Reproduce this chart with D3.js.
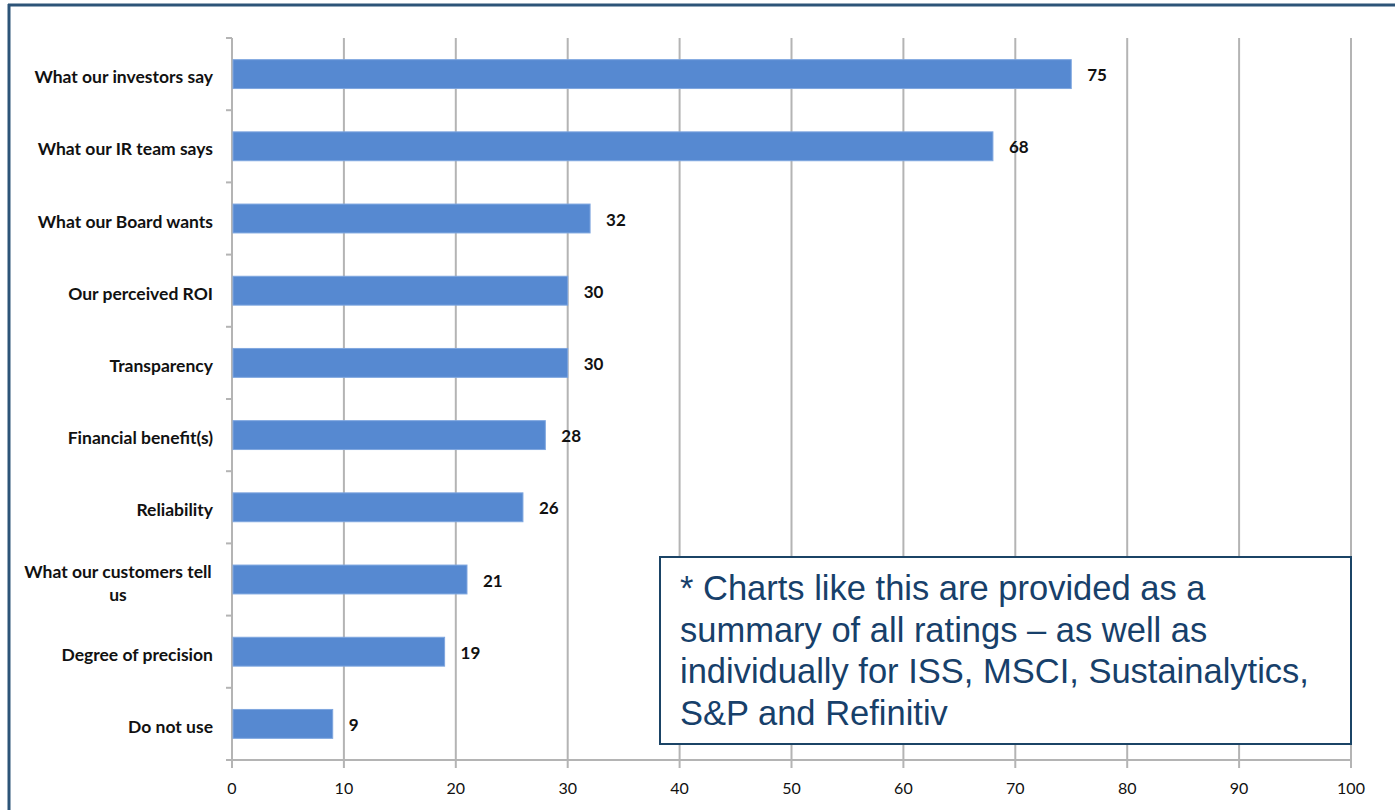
<!DOCTYPE html>
<html><head><meta charset="utf-8">
<script src="https://cdn.jsdelivr.net/npm/d3@7"></script>
<style>
html,body{margin:0;padding:0;background:#fff;}
svg{display:block;}
</style></head>
<body>
<svg id="chart" width="1395" height="810"></svg>
<script>
const categories = ["What our investors say","What our IR team says","What our Board wants","Our perceived ROI","Transparency","Financial benefit(s)","Reliability","What our customers tell us","Degree of precision","Do not use"];
const values = [75,68,32,30,30,28,26,21,19,9];
const xTicks = [0,10,20,30,40,50,60,70,80,90,100];
const noteLines = ["* Charts like this are provided as a","summary of all ratings \u2013 as well as","individually for ISS, MSCI, Sustainalytics,","S&P and Refinitiv"];

const svg = d3.select("#chart");
const pLeft = 232, pRight = 1351, pTop = 38, pBottom = 760;
const x = d3.scaleLinear().domain([0,100]).range([pLeft,pRight]);
const y = d3.scaleBand().domain(categories).range([pTop,pBottom]).paddingInner(0.6).paddingOuter(0.3);
const yb = d3.scaleBand().domain(categories).range([pTop,pBottom]);
const font = "Lato, 'Open Sans', sans-serif";

// outer frame
svg.append("line").attr("x1",8).attr("x2",1395).attr("y1",5).attr("y2",5).attr("stroke","#2d5478").attr("stroke-width",3);
svg.append("line").attr("x1",9).attr("x2",9).attr("y1",4).attr("y2",810).attr("stroke","#2d5478").attr("stroke-width",3);

const grid = "#b4b4b4";
// gridlines
svg.append("g").selectAll("line").data(xTicks.filter(d=>d>0)).join("line")
  .attr("x1",d=>x(d)).attr("x2",d=>x(d)).attr("y1",pTop).attr("y2",pBottom+8)
  .attr("stroke",grid).attr("stroke-width",2);

// y axis line & ticks
svg.append("line").attr("x1",pLeft).attr("x2",pLeft).attr("y1",pTop).attr("y2",pBottom).attr("stroke",grid).attr("stroke-width",2);
const bounds = categories.map(c=>yb(c)).concat([pBottom]);
svg.append("g").selectAll("line").data(bounds).join("line")
  .attr("x1",pLeft-6).attr("x2",pLeft).attr("y1",d=>d).attr("y2",d=>d)
  .attr("stroke",grid).attr("stroke-width",2);

// x axis
svg.append("line").attr("x1",pLeft).attr("x2",pRight).attr("y1",pBottom).attr("y2",pBottom).attr("stroke",grid).attr("stroke-width",2);
svg.append("line").attr("x1",pLeft).attr("x2",pLeft).attr("y1",pBottom).attr("y2",pBottom+8).attr("stroke",grid).attr("stroke-width",2);
svg.append("g").selectAll("text").data(xTicks).join("text")
  .attr("x",d=>x(d)).attr("y",pBottom+34).attr("text-anchor","middle")
  .attr("font-family",font).attr("font-size",16).attr("fill","#111")
  .text(d=>d);

// bars
svg.append("g").selectAll("rect").data(values).join("rect")
  .attr("x",x(0)+1).attr("y",(d,i)=>y(categories[i])).attr("width",d=>x(d)-x(0)-1).attr("height",y.bandwidth())
  .attr("fill","#5689d1").attr("stroke","#7ea6df").attr("stroke-width",1);

// value labels
svg.append("g").selectAll("text").data(values).join("text")
  .attr("x",d=>x(d)+16).attr("y",(d,i)=>y(categories[i])+y.bandwidth()/2).attr("dy","0.42em")
  .attr("font-family",font).attr("font-weight","bold").attr("font-size",17).attr("fill","#111")
  .text(d=>d);

// category labels
const lab = svg.append("g");
categories.forEach(c=>{
  const cy = yb(c)+yb.bandwidth()/2;
  if(c==="What our customers tell us"){
    const t = lab.append("text").attr("text-anchor","middle").attr("x",118)
      .attr("font-family",font).attr("font-weight","bold").attr("font-size",17.5).attr("fill","#111");
    t.append("tspan").attr("x",118).attr("y",cy-9).attr("dy","0.4em").text("What our customers tell");
    t.append("tspan").attr("x",118).attr("y",cy+14).attr("dy","0.4em").text("us");
  } else {
    lab.append("text").attr("x",213).attr("y",cy+2).attr("dy","0.4em").attr("text-anchor","end")
      .attr("font-family",font).attr("font-weight","bold").attr("font-size",17.5).attr("fill","#111")
      .text(c);
  }
});

// note box
svg.append("rect").attr("x",660).attr("y",557).attr("width",691).attr("height",187)
  .attr("fill","#fff").attr("stroke","#1b4466").attr("stroke-width",2);
svg.append("g")
  .selectAll("text").data(noteLines).join("text")
  .attr("x",680).attr("y",(d,i)=>600+i*41.5)
  .attr("font-family","'Liberation Sans', Arial, sans-serif").attr("font-size",34.5).attr("fill","#17406a")
  .text(d=>d);
</script>
</body></html>
